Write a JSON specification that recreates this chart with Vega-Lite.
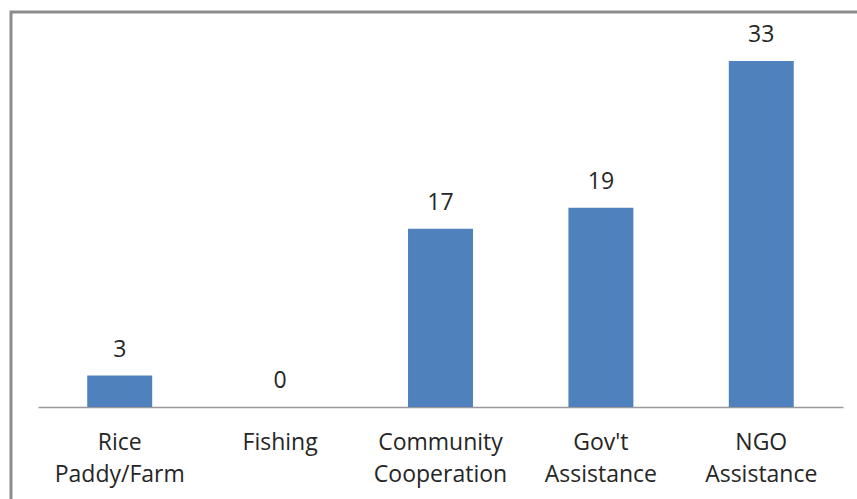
{
  "$schema": "https://vega.github.io/schema/vega-lite/v6.json",
  "width": 860,
  "height": 500,
  "autosize": {"type": "none"},
  "padding": {"left": 11, "top": 12, "right": -14, "bottom": -13},
  "background": "white",
  "config": {"view": {"stroke": "#8c8c8c", "strokeWidth": 3}, "font": "Open Sans"},
  "data": {"values": [
    {"category": "Rice Paddy/Farm", "value": 3},
    {"category": "Fishing", "value": 0},
    {"category": "Community Cooperation", "value": 17},
    {"category": "Gov't Assistance", "value": 19},
    {"category": "NGO Assistance", "value": 33}
  ]},
  "encoding": {
    "x": {
      "field": "category", "type": "nominal", "sort": null,
      "scale": {"range": [27, 832], "paddingInner": 0.595, "paddingOuter": 0.307},
      "axis": {
        "title": null, "orient": "bottom", "offset": -105,
        "ticks": false, "tickSize": 0,
        "domainColor": "#999999", "domainWidth": 1.5,
        "labelAngle": 0, "labelFontSize": 23, "labelColor": "#262626",
        "labelFont": "Open Sans", "labelPadding": 24, "labelBaseline": "top",
        "labelLineHeight": 32, "labelLimit": 400,
        "labelExpr": "split(datum.value, ' ')"
      }
    },
    "y": {
      "field": "value", "type": "quantitative",
      "scale": {"domain": [0, 35], "range": [395, 28]},
      "axis": null
    }
  },
  "layer": [
    {"mark": {"type": "bar", "color": "#4F81BD"}},
    {"mark": {"type": "text", "dy": -19, "baseline": "alphabetic", "fontSize": 23, "color": "#262626", "font": "Open Sans"},
     "encoding": {"text": {"field": "value", "type": "quantitative"}}}
  ]
}
